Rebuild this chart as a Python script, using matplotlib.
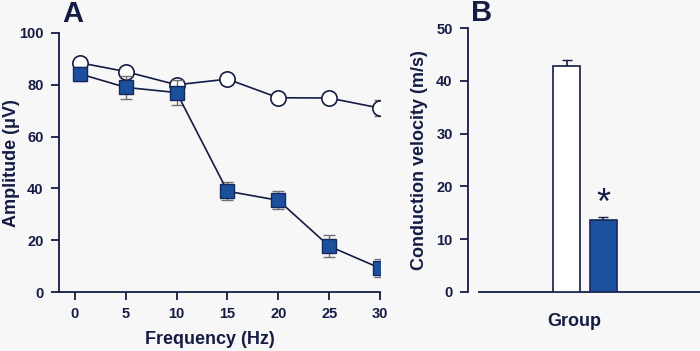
import matplotlib
matplotlib.use("Agg")
import matplotlib.pyplot as plt

plt.rcParams['font.family'] = ['Liberation Sans', 'DejaVu Sans']
plt.rcParams['font.weight'] = 'bold'

# Panel A data
freq = [0.5, 5, 10, 15, 20, 25, 30]
control_amp = [88.5, 85.1, 80.0, 82.2, 75.0, 74.9, 71.0]
control_err = [1.0, 1.0, 1.0, 1.0, 1.0, 1.0, 3.0]
treated_amp = [84.2, 79.0, 77.0, 38.9, 35.4, 17.7, 9.2]
treated_err = [2.6, 4.3, 4.9, 3.5, 3.5, 4.3, 3.4]
xticks_a = [0, 5, 10, 15, 20, 25, 30]
yticks_a = [0, 20, 40, 60, 80, 100]

# Panel B data
groups = [0, 1]
velocity = [42.9, 13.7]
velocity_err = [1.1, 0.4]
yticks_b = [0, 10, 20, 30, 40, 50]

BG = '#f7f7f7'
NAVY = '#141c44'
BLUE = '#1c4f9c'
EDGE = '#142a5e'
GREY = '#707070'

fig = plt.figure(figsize=(7.0, 3.51), dpi=100, facecolor=BG)

W, H = 700, 351
def rect(l, t, r, b):
    return [l / W, 1 - b / H, (r - l) / W, (b - t) / H]

TICK_FS = 10.5
LABEL_FS = 13

# ---------- Panel A ----------
ax = fig.add_axes(rect(59, 33, 380, 292))
ax.set_facecolor(BG)
ax.errorbar(freq, control_amp, yerr=control_err, fmt='none', ecolor=GREY,
            elinewidth=1, capsize=4, zorder=2)
ax.plot(freq, control_amp, '-o', color=NAVY, lw=1.2, markersize=11,
        markerfacecolor='white', markeredgecolor=NAVY, markeredgewidth=1.2, zorder=3)
ax.errorbar(freq, treated_amp, yerr=treated_err, fmt='none', ecolor=GREY,
            elinewidth=1, capsize=4, zorder=4)
ax.plot(freq, treated_amp, '-s', color=NAVY, lw=1.2, markersize=10,
        markerfacecolor=BLUE, markeredgecolor=EDGE, markeredgewidth=1.0, zorder=5)
ax.set_xlim(-1.57, 30)
ax.set_ylim(0, 100)
ax.set_xticks(xticks_a)
ax.set_yticks(yticks_a)
for s in ['top', 'right']:
    ax.spines[s].set_visible(False)
for s in ['left', 'bottom']:
    ax.spines[s].set_color(NAVY)
    ax.spines[s].set_linewidth(1.3)
ax.tick_params(axis='both', colors=NAVY, length=6, width=1.3, labelsize=TICK_FS, pad=5)
for lab in ax.get_xticklabels() + ax.get_yticklabels():
    lab.set_fontweight('bold')
    lab.set_color(NAVY)

fig.text(210 / W, 1 - 340 / H, 'Frequency (Hz)', ha='center', va='center',
         fontsize=LABEL_FS, fontweight='bold', color=NAVY)
fig.text(12 / W, 1 - 163 / H, 'Amplitude (μV)', ha='center', va='center',
         rotation=90, fontsize=LABEL_FS, fontweight='bold', color=NAVY)
fig.text(62 / W, 1 - 14 / H, 'A', ha='left', va='center',
         fontsize=21, fontweight='bold', color=NAVY)

# ---------- Panel B ----------
bx = fig.add_axes(rect(479, 28.3, 700, 291.7))
bx.set_facecolor(BG)
bx.bar(groups, velocity, width=0.75, color=['white', BLUE],
       edgecolor=[NAVY, EDGE], linewidth=1.2, zorder=3)
bx.errorbar(groups, velocity, yerr=[[0, 0], velocity_err], fmt='none',
            ecolor=NAVY, elinewidth=1.2, capsize=3.5, zorder=2)
bx.set_xlim(-2.42, 3.67)
bx.set_ylim(0, 50)
bx.set_yticks(yticks_b)
bx.set_xticks([])
for s in ['top', 'right']:
    bx.spines[s].set_visible(False)
for s in ['left', 'bottom']:
    bx.spines[s].set_color(NAVY)
    bx.spines[s].set_linewidth(1.3)
bx.spines['left'].set_position(('axes', -11 / 221))
bx.tick_params(axis='y', colors=NAVY, length=6, width=1.3, labelsize=TICK_FS, pad=5)
for lab in bx.get_yticklabels():
    lab.set_fontweight('bold')
    lab.set_color(NAVY)
bx.text(groups[1], velocity[1] + velocity_err[1] + 0.6, '*', ha='center', va='baseline',
        fontsize=26, fontweight='normal', color=NAVY)

fig.text(574 / W, 1 - 321 / H, 'Group', ha='center', va='center',
         fontsize=LABEL_FS, fontweight='bold', color=NAVY)
fig.text(420 / W, 1 - 160 / H, 'Conduction velocity (m/s)', ha='center', va='center',
         rotation=90, fontsize=LABEL_FS, fontweight='bold', color=NAVY)
fig.text(471 / W, 1 - 13 / H, 'B', ha='left', va='center',
         fontsize=21, fontweight='bold', color=NAVY)

fig.savefig('out.png', dpi=100, facecolor=BG)
